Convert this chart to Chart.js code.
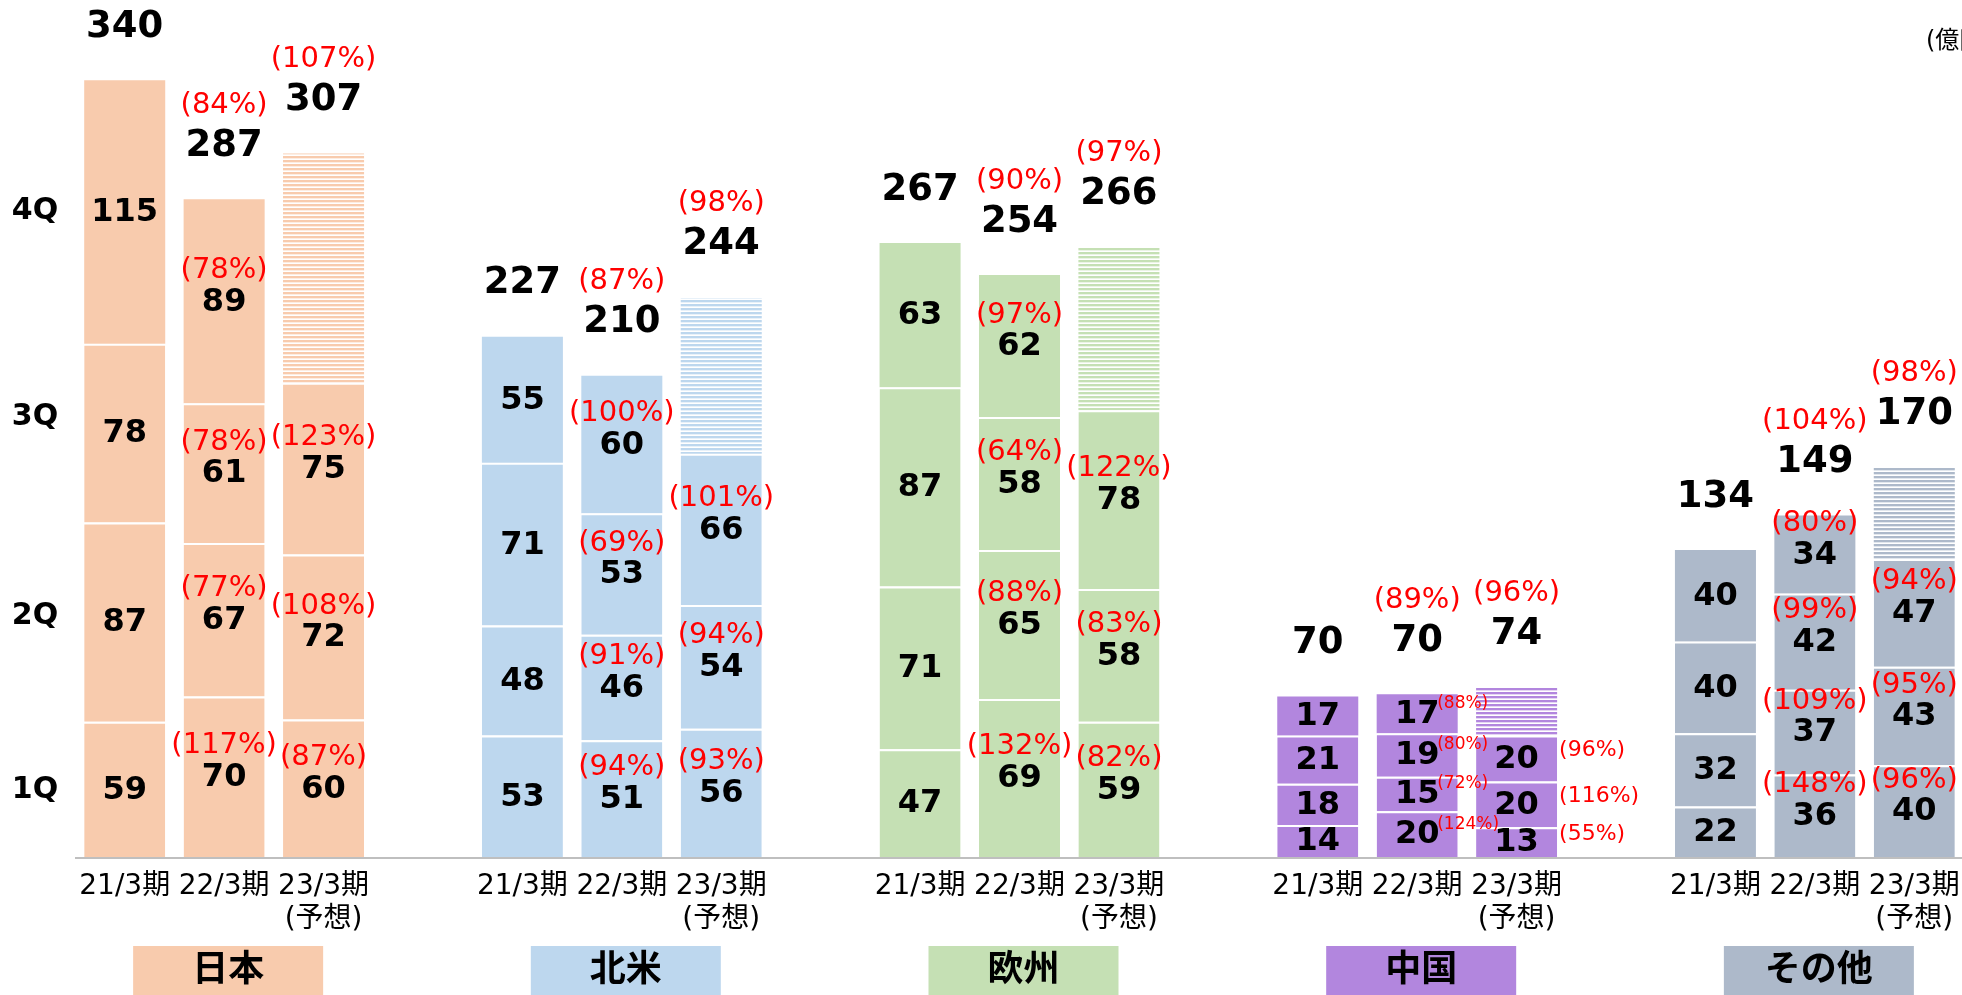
<!DOCTYPE html>
<html lang="ja">
<head>
<meta charset="utf-8">
<title>地域別売上高</title>
<script src="https://cdn.jsdelivr.net/npm/chart.js@4"></script>
<style>
  html, body { margin: 0; padding: 0; background: #fff; overflow: hidden; }
  #wrap { width: 1966px; height: 995px; }
</style>
</head>
<body>
<div id="wrap"><canvas id="chart" width="1966" height="995"></canvas></div>
<script>
const regions = ['日本', '北米', '欧州', '中国', 'その他'];
const periods = ['21/3期', '22/3期', '23/3期'];
const forecastNote = '(予想)';
const quarters = ['1Q', '2Q', '3Q', '4Q'];
const quarterLabelValues = [29, 105, 192, 282];
const unitLabel = '(億円)';

// 15 bars: region by region, 21/3, 22/3, 23/3
const q1 = [59, 70, 60, 53, 51, 56, 47, 69, 59, 14, 20, 13, 22, 36, 40];
const q2 = [87, 67, 72, 48, 46, 54, 71, 65, 58, 18, 15, 20, 32, 37, 43];
const q3 = [78, 61, 75, 71, 53, 66, 87, 58, 78, 21, 19, 20, 40, 42, 47];
const q4 = [115, 89, 100, 55, 60, 68, 63, 62, 71, 17, 17, 21, 40, 34, 40];
const totals = [340, 287, 307, 227, 210, 244, 267, 254, 266, 70, 70, 74, 134, 149, 170];

// year-on-year ratios (%), null = not shown
const q1Pct = [null, 117, 87, null, 94, 93, null, 132, 82, null, 124, 55, null, 148, 96];
const q2Pct = [null, 77, 108, null, 91, 94, null, 88, 83, null, 72, 116, null, 109, 95];
const q3Pct = [null, 78, 123, null, 69, 101, null, 64, 122, null, 80, 96, null, 99, 94];
const q4Pct = [null, 78, null, null, 100, null, null, 97, null, null, 88, null, null, 80, null];
const totalPct = [null, 84, 107, null, 87, 98, null, 90, 97, null, 89, 96, null, 104, 98];

const regionColors = ['#F8CBAD', '#BDD7EE', '#C5E0B4', '#B286DE', '#ADB9CA'];

const FONT = '"DejaVu Sans", "Noto Sans CJK JP", sans-serif';

function stripes(color) {
    const c = document.createElement('canvas');
    c.width = 8;
    c.height = 4;
    const g = c.getContext('2d');
    g.fillStyle = '#fff';
    g.fillRect(0, 0, 8, 4);
    g.fillStyle = color;
    g.fillRect(0, 0, 8, 2);
    g.globalAlpha = 0.35;
    g.fillRect(0, 2, 8, 1);
    return g.createPattern(c, 'repeat');
}

// spread the 15 bars over 19 slots, one empty slot between regions
const slotIndex = [];
const labels = [];
regions.forEach((r, ri) => {
    periods.forEach((p) => {
        slotIndex.push(labels.length);
        labels.push(r + ' ' + p);
    });
    if (ri < regions.length - 1) labels.push('');
});

function toSlots(values) {
    const out = new Array(labels.length).fill(null);
    values.forEach((v, i) => { out[slotIndex[i]] = v; });
    return out;
}

function colorsFor(q) {
    const out = new Array(labels.length).fill(null);
    for (let i = 0; i < 15; i++) {
        const color = regionColors[Math.floor(i / 3)];
        out[slotIndex[i]] = (q === 3 && i % 3 === 2) ? stripes(color) : color;
    }
    return out;
}

const series = [q1, q2, q3, q4];
const pcts = [q1Pct, q2Pct, q3Pct, q4Pct];

const datasets = series.map((vals, q) => ({
    label: quarters[q],
    data: toSlots(vals),
    backgroundColor: colorsFor(q),
    borderColor: '#fff',
    borderWidth: q < 3 ? {top: 2} : 0,
    borderSkipped: 'start',
}));

function text(ctx, str, x, y, font, color, align) {
    ctx.font = font;
    ctx.fillStyle = color;
    ctx.textAlign = align || 'center';
    ctx.textBaseline = 'middle';
    ctx.fillText(str, x, y);
}

const labelPlugin = {
    id: 'barLabels',
    afterDatasetsDraw(chart) {
        const ctx = chart.ctx;
        const ys = chart.scales.y;
        ctx.save();

        // base line
        ctx.strokeStyle = '#BFBFBF';
        ctx.lineWidth = 2;
        ctx.beginPath();
        ctx.moveTo(75, ys.bottom + 1);
        ctx.lineTo(chart.width, ys.bottom + 1);
        ctx.stroke();

        quarters.forEach((q, i) => {
            text(ctx, q, 35, ys.getPixelForValue(quarterLabelValues[i]), 'bold 30px ' + FONT, '#000');
        });
        text(ctx, unitLabel, 1926, 42, '24px ' + FONT, '#000', 'left');

        for (let i = 0; i < 15; i++) {
            const slot = slotIndex[i];
            const region = Math.floor(i / 3);
            const period = i % 3;
            let top = 0;
            for (let q = 0; q < 4; q++) {
                const el = chart.getDatasetMeta(q).data[slot];
                const cy = (el.y + el.base) / 2;
                top = el.y;
                const forecastTop = (q === 3 && period === 2);
                if (!forecastTop) {
                    text(ctx, String(series[q][i]), el.x, cy + 1, 'bold 32px ' + FONT, '#000');
                }
                const pct = pcts[q][i];
                if (pct === null) continue;
                const s = '(' + pct + '%)';
                if (region === 3 && period === 1) {
                    text(ctx, s, el.x + 20, cy - 10, '17px ' + FONT, '#FF0000', 'left');
                } else if (region === 3 && period === 2) {
                    text(ctx, s, el.x + el.width / 2 + 2, cy - 8, '22px ' + FONT, '#FF0000', 'left');
                } else {
                    text(ctx, s, el.x, cy - 31, '29px ' + FONT, '#FF0000');
                }
            }
            const x = chart.getDatasetMeta(0).data[slot].x;
            text(ctx, String(totals[i]), x, top - 53, 'bold 37px ' + FONT, '#000');
            if (totalPct[i] !== null) {
                text(ctx, '(' + totalPct[i] + '%)', x, top - 94, '29px ' + FONT, '#FF0000');
            }
            text(ctx, periods[period], x, 887, '28px ' + FONT, '#000');
            if (period === 2) {
                text(ctx, forecastNote, x, 920, '28px ' + FONT, '#000');
            }
        }

        // region boxes under the middle bar
        regions.forEach((r, ri) => {
            const x = chart.getDatasetMeta(0).data[slotIndex[ri * 3 + 1]].x + 4;
            ctx.fillStyle = regionColors[ri];
            ctx.fillRect(x - 95, 946, 190, 49);
            text(ctx, r, x, 972, 'bold 36px ' + FONT, '#000');
        });

        ctx.restore();
    },
};

new Chart(document.getElementById('chart'), {
    type: 'bar',
    data: {labels: labels, datasets: datasets},
    options: {
        responsive: false,
        animation: false,
        layout: {padding: {left: 75, right: 2, top: 0, bottom: 138}},
        plugins: {legend: {display: false}, tooltip: {enabled: false}},
        datasets: {bar: {categoryPercentage: 1, barPercentage: 0.815}},
        scales: {
            x: {stacked: true, display: false},
            y: {stacked: true, display: false, min: 0, max: 374},
        },
    },
    plugins: [labelPlugin],
});
</script>
</body>
</html>
